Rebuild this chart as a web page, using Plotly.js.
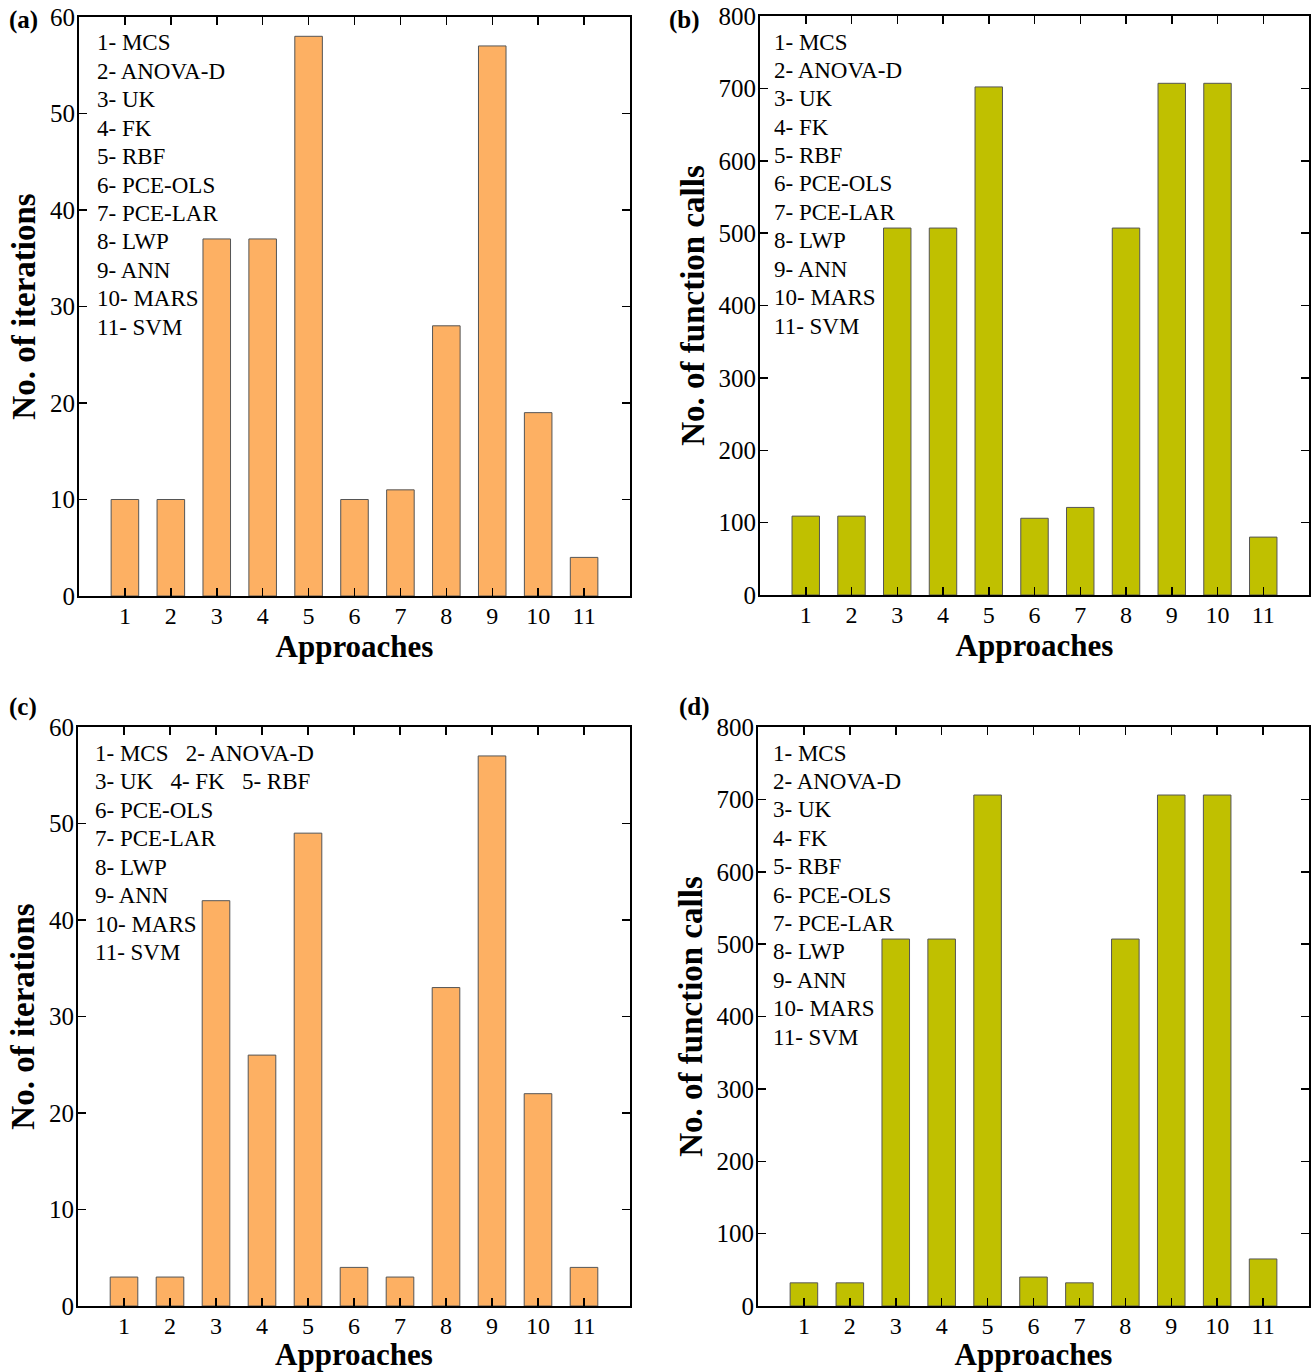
<!DOCTYPE html>
<html>
<head>
<meta charset="utf-8">
<script src="https://cdn.plot.ly/plotly-3.0.1.min.js"></script>
<style>html,body{margin:0;padding:0;background:#fff;}#chart{width:1316px;height:1372px;}</style>
</head>
<body>
<div id="chart"></div>
<script>
const approaches = [1,2,3,4,5,6,7,8,9,10,11];
const iterA = [10,10,37,37,58,10,11,28,57,19,4];
const callsB = [109,109,507,507,702,106,121,507,707,707,80];
const iterC = [3,3,42,26,49,4,3,33,57,22,4];
const callsD = [32,32,507,507,706,40,32,507,706,706,65];
const methodLines = ["1- MCS","2- ANOVA-D","3- UK","4- FK","5- RBF","6- PCE-OLS","7- PCE-LAR","8- LWP","9- ANN","10- MARS","11- SVM"];
const methodLinesC = ["1- MCS   2- ANOVA-D","3- UK   4- FK   5- RBF","6- PCE-OLS","7- PCE-LAR","8- LWP","9- ANN","10- MARS","11- SVM"];
const panelLabels = ["(a)","(b)","(c)","(d)"];
const yTitles = ["No. of iterations","No. of function calls","No. of iterations","No. of function calls"];
const xTitle = "Approaches";

const orange = "#FDB063";
const olive = "#C0C000";
const FONT = "'Liberation Serif', 'Times New Roman', serif";

function bar(y, color, xa, ya){
  return {type:"bar", x:approaches, y:y, xaxis:xa, yaxis:ya, width:0.6,
    marker:{color:color, line:{color:"#555555", width:1}}, hoverinfo:"skip", showlegend:false};
}
const data = [
  bar(iterA, orange, "x", "y"),
  bar(callsB, olive, "x2", "y2"),
  bar(iterC, orange, "x3", "y3"),
  bar(callsD, olive, "x4", "y4")
];

function xax(domain, anchor){
  return {domain:domain, anchor:anchor, range:[0,12], tickvals:approaches, ticktext:approaches.map(String),
    ticks:"inside", ticklen:8, tickwidth:1.5, tickcolor:"#000", mirror:"ticks", showline:true, linecolor:"#000", linewidth:2,
    showgrid:false, zeroline:false, fixedrange:true, ticklabelstandoff:-3,
    tickfont:{family:FONT, size:24, color:"#000"},
    title:{text:"<b>"+xTitle+"</b>", font:{family:FONT, size:31, color:"#000"}, standoff:1}};
}
function yax(domain, anchor, maxv, dt, title){
  return {domain:domain, anchor:anchor, range:[0,maxv], dtick:dt, tick0:0,
    ticks:"inside", ticklen:8, tickwidth:1.5, tickcolor:"#000", mirror:"ticks", showline:true, linecolor:"#000", linewidth:2,
    showgrid:false, zeroline:false, fixedrange:true, ticklabelstandoff:-3,
    tickfont:{family:FONT, size:25, color:"#000"},
    title:{text:"<b>"+title+"</b>", font:{family:FONT, size:33, color:"#000"}, standoff:4}};
}

const W=1316, H=1372;
const px = v => v/W;
const py = v => 1 - v/H;

const layout = {
  width:W, height:H, margin:{l:0,r:0,t:0,b:0}, paper_bgcolor:"#fff", plot_bgcolor:"#fff",
  showlegend:false, bargap:0.4,
  xaxis: xax([px(79), px(630)], "y"),
  yaxis: yax([py(596), py(17)], "x", 60, 10, yTitles[0]),
  xaxis2: xax([px(760), px(1309)], "y2"),
  yaxis2: yax([py(595), py(16)], "x2", 800, 100, yTitles[1]),
  xaxis3: xax([px(78), px(630)], "y3"),
  yaxis3: yax([py(1306), py(727)], "x3", 60, 10, yTitles[2]),
  xaxis4: xax([px(758), px(1309)], "y4"),
  yaxis4: yax([py(1306), py(727)], "x4", 800, 100, yTitles[3]),
  annotations: []
};

const ann = layout.annotations;
function addList(lines, xPix, yStartPix, step){
  lines.forEach((t,i)=>{
    ann.push({text:t, xref:"paper", yref:"paper", x:px(xPix), y:py(yStartPix + i*step), xanchor:"left", yanchor:"middle",
      showarrow:false, font:{family:FONT, size:23, color:"#000"}});
  });
}
addList(methodLines, 95, 43, 28.4);
addList(methodLines, 772, 42, 28.4);
addList(methodLinesC, 93, 753, 28.5);
addList(methodLines, 771, 753, 28.4);

const labelPos = [[7,20],[667,20],[7,707],[677,707]];
panelLabels.forEach((t,i)=>{
  ann.push({text:"<b>"+t+"</b>", xref:"paper", yref:"paper", x:px(labelPos[i][0]), y:py(labelPos[i][1]), xanchor:"left", yanchor:"middle",
    showarrow:false, font:{family:FONT, size:25, color:"#000"}});
});

Plotly.newPlot("chart", data, layout, {displayModeBar:false, staticPlot:true});
</script>
</body>
</html>
